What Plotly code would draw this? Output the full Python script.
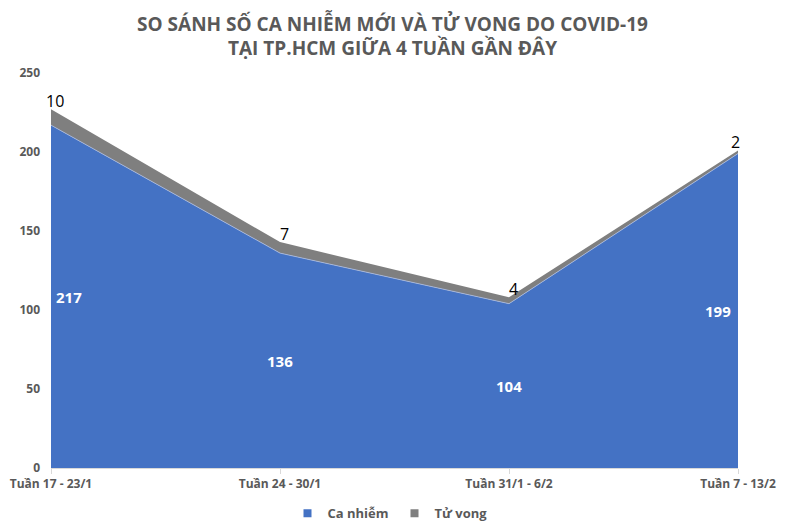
import plotly.graph_objects as go

categories = ["Tuần 17 - 23/1", "Tuần 24 - 30/1", "Tuần 31/1 - 6/2", "Tuần 7 - 13/2"]
ca_nhiem = [217, 136, 104, 199]
tu_vong = [10, 7, 4, 2]

BLUE = "#4472C4"
GRAY = "#7F7F7F"
TXT = "#595959"

fig = go.Figure()
fig.add_trace(go.Scatter(
    x=categories, y=ca_nhiem, name="Ca nhiễm", stackgroup="one",
    mode="lines", line=dict(color="#A9BDE6", width=0.8), fillcolor=BLUE,
    showlegend=False, hoverinfo="skip"))
fig.add_trace(go.Scatter(
    x=categories, y=tu_vong, name="Tử vong", stackgroup="one",
    mode="lines", line=dict(color=GRAY, width=0), fillcolor=GRAY,
    showlegend=False, hoverinfo="skip"))

# legend entries (square markers)
for name, col in [("Ca nhiễm", BLUE), ("Tử vong", GRAY)]:
    fig.add_trace(go.Scatter(x=[None], y=[None], mode="markers", name=name,
                             marker=dict(symbol="square", size=8, color=col)))

n = len(categories)
annotations = []
for i, (c, v) in enumerate(zip(categories, ca_nhiem)):
    xs = 18 if i == 0 else (-20 if i == n - 1 else 0)
    annotations.append(dict(x=c, y=v / 2, text=str(v), showarrow=False,
                            xshift=xs,
                            font=dict(family="Open Sans", size=15, color="white", weight="bold")))
for i, (c, v, t) in enumerate(zip(categories, ca_nhiem, tu_vong)):
    xs = 4 if i == 0 else (-3 if i == n - 1 else 4)
    annotations.append(dict(x=c, y=v + t, text=str(t), showarrow=False,
                            yshift=8, xshift=xs,
                            font=dict(family="Open Sans", size=16, color="black")))

fig.update_layout(
    width=785, height=527,
    paper_bgcolor="white", plot_bgcolor="white",
    margin=dict(l=51, r=47, t=73, b=59, autoexpand=False),
    title=dict(text="SO SÁNH SỐ CA NHIỄM MỚI VÀ TỬ VONG DO COVID-19<br>TẠI TP.HCM GIỮA 4 TUẦN GẦN ĐÂY",
               x=0.5, xanchor="center", yref="container", y=0.942, yanchor="middle",
               font=dict(family="Open Sans", size=19, color=TXT, weight="bold")),
    annotations=annotations,
    legend=dict(orientation="h", x=0.5, xanchor="center",
                yref="container", y=0.026, yanchor="middle",
                traceorder="normal", entrywidth=62, itemwidth=30,
                font=dict(family="Open Sans", size=13, color=TXT, weight="bold")),
    showlegend=True,
)
fig.update_xaxes(range=[0, n - 1], showgrid=False, zeroline=False,
                 showline=True, linecolor="#D9D9D9", linewidth=1,
                 ticks="outside", tickcolor="#D9D9D9", ticklen=5,
                 tickfont=dict(family="Open Sans", size=12, color=TXT, weight="bold"))
fig.update_yaxes(range=[0, 250], dtick=50, showgrid=False, zeroline=False,
                 showline=False, ticks="", ticklabelstandoff=10,
                 tickfont=dict(family="Open Sans", size=12, color=TXT, weight="bold"))

fig.write_html("out.html")
